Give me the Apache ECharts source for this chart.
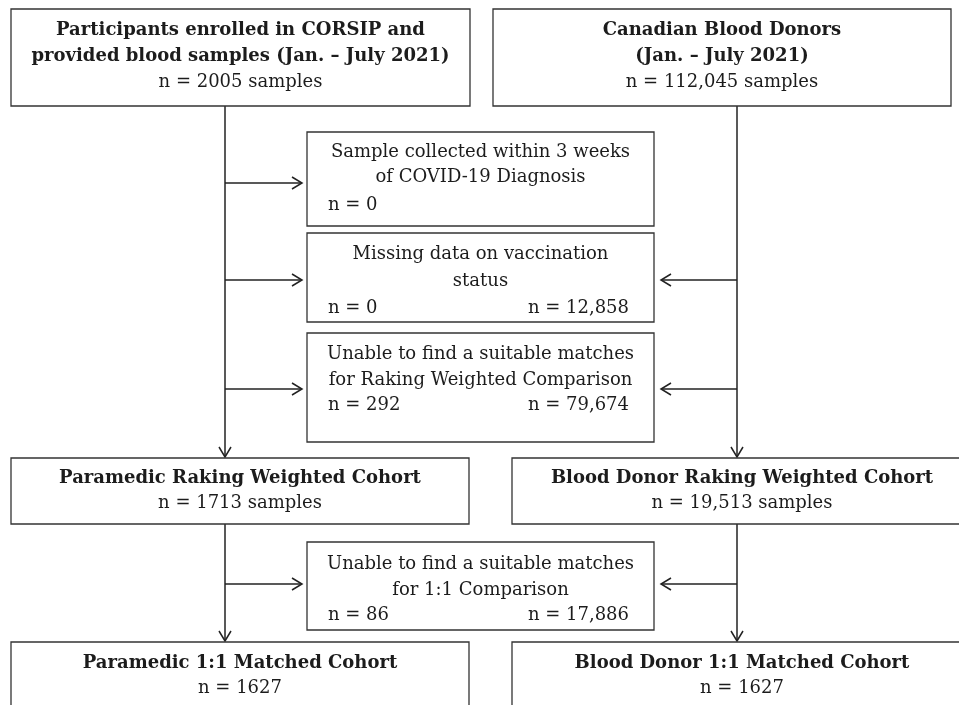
<!DOCTYPE html>
<html>
<head>
<meta charset="utf-8">
<script src="https://cdn.jsdelivr.net/npm/echarts@6/dist/echarts.min.js"></script>
<style>
  html, body { margin: 0; padding: 0; background: #fff; }
  #flow { width: 959px; height: 705px; }
</style>
</head>
<body>
<div id="flow"></div>
<script>
// --- data -------------------------------------------------------------
const sourceTitles = [
  ['Participants enrolled in CORSIP and', 'provided blood samples (Jan. \u2013 July 2021)'],
  ['Canadian Blood Donors', '(Jan. \u2013 July 2021)']
];
const sourceCounts = [2005, 112045];

const exclusionReasons = [
  ['Sample collected within 3 weeks', 'of COVID-19 Diagnosis'],
  ['Missing data on vaccination', 'status'],
  ['Unable to find a suitable matches', 'for Raking Weighted Comparison'],
  ['Unable to find a suitable matches', 'for 1:1 Comparison']
];
const paramedicExcluded = [0, 0, 292, 86];
const donorExcluded = [null, 12858, 79674, 17886];

const cohortTitles = [
  'Paramedic Raking Weighted Cohort',
  'Blood Donor Raking Weighted Cohort',
  'Paramedic 1:1 Matched Cohort',
  'Blood Donor 1:1 Matched Cohort'
];
const cohortCounts = [1713, 19513, 1627, 1627];
const cohortUnits = [' samples', ' samples', '', ''];

// --- layout (page pixels, y down) ------------------------------------
const sourceRects = [[11, 9, 470, 106], [493, 9, 951, 106]];
const sourceBaselines = [36, 62, 88];
const exclusionRects = [[307, 132, 654, 226], [307, 233, 654, 322], [307, 333, 654, 442], [307, 542, 654, 630]];
const exclusionBaselines = [[158, 183, 211], [260, 287, 314], [360, 386, 411], [570, 596, 621]];
const cohortRects = [[11, 458, 469, 524], [512, 458, 972, 524], [11, 642, 469, 722], [512, 642, 972, 722]];
const cohortBaselines = [[484, 509], [484, 509], [669, 694], [669, 694]];
const trunkX = [225, 737];
const connectors = [
  [225, 106, 225, 457], [225, 524, 225, 641],
  [737, 106, 737, 457], [737, 524, 737, 641],
  [225, 183, 302, 183], [225, 280, 302, 280], [225, 389, 302, 389], [225, 584, 302, 584],
  [737, 280, 661, 280], [737, 389, 661, 389], [737, 584, 661, 584]
];

const FONT = '"DejaVu Serif", "Liberation Serif", serif';
const FS = 18;
const INK = '#1c1c1c';

function fmt(n) {
  return n >= 10000 ? n.toLocaleString('en-US') : String(n);
}

// build box specs from data + layout
let boxes = [];
sourceRects.forEach(function (r, i) {
  let cx = (r[0] + r[2]) / 2;
  boxes.push({
    rect: r,
    lines: [
      { t: sourceTitles[i][0], x: cx, y: sourceBaselines[0], bold: true, align: 'center' },
      { t: sourceTitles[i][1], x: cx, y: sourceBaselines[1], bold: true, align: 'center' },
      { t: 'n = ' + fmt(sourceCounts[i]) + ' samples', x: cx, y: sourceBaselines[2], align: 'center' }
    ]
  });
});
exclusionRects.forEach(function (r, i) {
  let cx = (r[0] + r[2]) / 2;
  let b = exclusionBaselines[i];
  let lines = [
    { t: exclusionReasons[i][0], x: cx, y: b[0], align: 'center' },
    { t: exclusionReasons[i][1], x: cx, y: b[1], align: 'center' },
    { t: 'n = ' + fmt(paramedicExcluded[i]), x: r[0] + 21, y: b[2], align: 'left' }
  ];
  if (donorExcluded[i] !== null) {
    lines.push({ t: 'n = ' + fmt(donorExcluded[i]), x: r[2] - 25, y: b[2], align: 'right' });
  }
  boxes.push({ rect: r, lines: lines });
});
cohortRects.forEach(function (r, i) {
  let cx = i % 2 === 0 ? 240 : 742;
  boxes.push({
    rect: r,
    lines: [
      { t: cohortTitles[i], x: cx, y: cohortBaselines[i][0], bold: true, align: 'center' },
      { t: 'n = ' + fmt(cohortCounts[i]) + cohortUnits[i], x: cx, y: cohortBaselines[i][1], align: 'center' }
    ]
  });
});

const renderBox = (params, api) => {
  let box = boxes[params.dataIndex];
  let p0 = api.coord([box.rect[0], box.rect[1]]);
  let p1 = api.coord([box.rect[2], box.rect[3]]);
  let children = [{
    type: 'rect',
    shape: { x: p0[0], y: p0[1], width: p1[0] - p0[0], height: p1[1] - p0[1] },
    style: { fill: '#fff', stroke: '#333', lineWidth: 1.3 }
  }];
  box.lines.forEach(function (ln) {
    let p = api.coord([ln.x, ln.y]);
    children.push({
      type: 'text',
      style: {
        text: ln.t,
        x: p[0],
        y: p[1] - 6,
        align: ln.align,
        verticalAlign: 'middle',
        font: (ln.bold ? 'bold ' : '') + FS + 'px ' + FONT,
        fill: INK
      }
    });
  });
  return { type: 'group', children: children };
};

const renderArrow = (params, api) => {
  let a = api.coord([api.value(0), api.value(1)]);
  let b = api.coord([api.value(2), api.value(3)]);
  let dx = b[0] - a[0], dy = b[1] - a[1];
  let len = Math.sqrt(dx * dx + dy * dy);
  let ux = dx / len, uy = dy / len;
  let hl = 10, hw = 6;
  let back = [b[0] - ux * hl, b[1] - uy * hl];
  return {
    type: 'group',
    children: [
      { type: 'line', shape: { x1: a[0], y1: a[1], x2: b[0], y2: b[1] }, style: { stroke: '#222', lineWidth: 1.5 } },
      {
        type: 'polyline',
        shape: { points: [[back[0] - uy * hw, back[1] + ux * hw], b, [back[0] + uy * hw, back[1] - ux * hw]] },
        style: { stroke: '#222', lineWidth: 1.5, fill: null }
      }
    ]
  };
};

let myChart = echarts.init(document.getElementById('flow'));
let option = {
  animation: false,
  grid: { left: 0, right: 0, top: 0, bottom: 0 },
  xAxis: { type: 'value', min: 0, max: 959, show: false },
  yAxis: { type: 'value', min: 0, max: 705, inverse: true, show: false },
  series: [
    {
      type: 'custom',
      renderItem: renderArrow,
      silent: true,
      data: connectors,
      z: 1
    },
    {
      type: 'custom',
      renderItem: renderBox,
      silent: true,
      data: boxes.map(function (b, i) { return [b.rect[0], b.rect[1], i]; }),
      z: 2
    }
  ]
};
myChart.setOption(option);
</script>
</body>
</html>
